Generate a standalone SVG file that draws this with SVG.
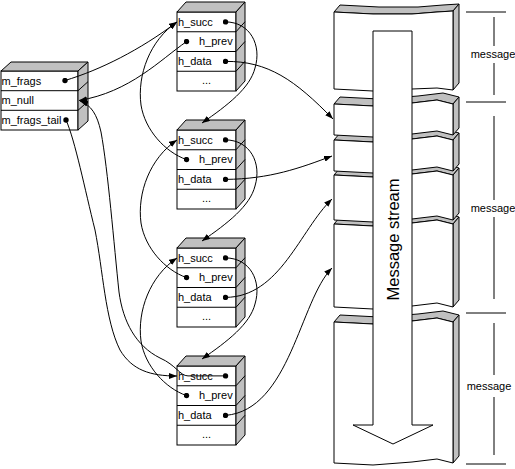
<svg xmlns="http://www.w3.org/2000/svg" width="515" height="469" viewBox="0 0 515 469">
<style>
.face{fill:#fff;stroke:#000;stroke-width:1}
.shade{fill:#c0c0c0;stroke:#000;stroke-width:1}
.ln{fill:none;stroke:#000;stroke-width:1}
text{font-family:"Liberation Sans",Arial,sans-serif;font-size:11px;fill:#000}
.big{font-size:16.5px}
.con{fill:none;stroke:#000;stroke-width:1}
.d{marker-start:url(#dot)}
.a{marker-end:url(#arr)}
</style>
<defs>
<marker id="dot" viewBox="-3 -3 6 6" refX="0" refY="0" markerWidth="6" markerHeight="6" markerUnits="userSpaceOnUse"><circle r="2.7" fill="#000"/></marker>
<marker id="arr" viewBox="0 0 8 6" refX="8" refY="3" markerWidth="8" markerHeight="6" orient="auto" markerUnits="userSpaceOnUse"><path d="M0,0 L8,3 L0,6 z" fill="#000"/></marker>
</defs>
<rect width="515" height="469" fill="#fff"/>

<g id="list-header" transform="translate(1,71)">
<rect class="face" x="0" y="0" width="77" height="59"/>
<polygon class="shade" points="0,0 10,-9 87,-9 77,0"/>
<polygon class="shade" points="77,0 87,-9 87,50 77,59"/>
<path class="ln" d="M0,19.7H77l10,-9 M0,39.3H77l10,-9"/>
<text x="0.5" y="13.5">m_frags</text>
<text x="0.5" y="33.2">m_null</text>
<text x="0.5" y="52.8">m_frags_tail</text>
</g>

<g id="node1" transform="translate(177,12)">
<rect class="face" x="0" y="0" width="59" height="79"/>
<polygon class="shade" points="0,0 9,-10 68,-10 59,0"/>
<polygon class="shade" points="59,0 68,-10 68,69 59,79"/>
<path class="ln" d="M0,19.75H59l9,-10 M0,39.5H59l9,-10 M0,59.25H59l9,-10"/>
<text x="1" y="13.5">h_succ</text>
<text x="22" y="33.2">h_prev</text>
<text x="1" y="53">h_data</text>
<text x="29.5" y="72" text-anchor="middle">...</text>
</g>
<g id="node2" transform="translate(177,130)">
<rect class="face" x="0" y="0" width="59" height="79"/>
<polygon class="shade" points="0,0 9,-10 68,-10 59,0"/>
<polygon class="shade" points="59,0 68,-10 68,69 59,79"/>
<path class="ln" d="M0,19.75H59l9,-10 M0,39.5H59l9,-10 M0,59.25H59l9,-10"/>
<text x="1" y="13.5">h_succ</text>
<text x="22" y="33.2">h_prev</text>
<text x="1" y="53">h_data</text>
<text x="29.5" y="72" text-anchor="middle">...</text>
</g>
<g id="node3" transform="translate(177,248)">
<rect class="face" x="0" y="0" width="59" height="79"/>
<polygon class="shade" points="0,0 9,-10 68,-10 59,0"/>
<polygon class="shade" points="59,0 68,-10 68,69 59,79"/>
<path class="ln" d="M0,19.75H59l9,-10 M0,39.5H59l9,-10 M0,59.25H59l9,-10"/>
<text x="1" y="13.5">h_succ</text>
<text x="22" y="33.2">h_prev</text>
<text x="1" y="53">h_data</text>
<text x="29.5" y="72" text-anchor="middle">...</text>
</g>
<g id="node4" transform="translate(177,366)">
<rect class="face" x="0" y="0" width="59" height="79"/>
<polygon class="shade" points="0,0 9,-10 68,-10 59,0"/>
<polygon class="shade" points="59,0 68,-10 68,69 59,79"/>
<path class="ln" d="M0,19.75H59l9,-10 M0,39.5H59l9,-10 M0,59.25H59l9,-10"/>
<text x="1" y="13.5">h_succ</text>
<text x="22" y="33.2">h_prev</text>
<text x="1" y="53">h_data</text>
<text x="29.5" y="72" text-anchor="middle">...</text>
</g>

<g id="message-stream">
<g id="block6">
<polygon class="shade" points="334,322 373,324 412,321 437,318 453,322 459,315 443,311 418,314 379,317 340,315"/>
<polygon class="shade" points="453,322 459,315 459,456 453,463"/>
<polygon class="face" points="334,322 373,324 412,321 437,318 453,322 453,463 437,459 412,462 373,465 334,463"/>
</g>
<g id="block5">
<polygon class="shade" points="334,224 373,226 412,223 437,220 453,224 459,217 443,213 418,216 379,219 340,217"/>
<polygon class="shade" points="453,224 459,217 459,300 453,307"/>
<polygon class="face" points="334,224 373,226 412,223 437,220 453,224 453,307 437,303 412,306 373,309 334,307"/>
</g>
<g id="block4">
<polygon class="shade" points="334,175 373,177 412,174 437,171 453,175 459,168 443,164 418,167 379,170 340,168"/>
<polygon class="shade" points="453,175 459,168 459,213 453,220"/>
<polygon class="face" points="334,175 373,177 412,174 437,171 453,175 453,220 437,216 412,219 373,222 334,220"/>
</g>
<g id="block3">
<polygon class="shade" points="334,140 373,142 412,139 437,136 453,140 459,133 443,129 418,132 379,135 340,133"/>
<polygon class="shade" points="453,140 459,133 459,164 453,171"/>
<polygon class="face" points="334,140 373,142 412,139 437,136 453,140 453,171 437,167 412,170 373,173 334,171"/>
</g>
<g id="block2">
<polygon class="shade" points="334,104 373,106 412,103 437,100 453,104 459,97 443,93 418,96 379,99 340,97"/>
<polygon class="shade" points="453,104 459,97 459,128 453,135"/>
<polygon class="face" points="334,104 373,106 412,103 437,100 453,104 453,135 437,131 412,134 373,137 334,135"/>
</g>
<g id="block1">
<polygon class="shade" points="334,12 373,14 412,14 437,12 453,11 459,4 443,5 418,7 379,7 340,5"/>
<polygon class="shade" points="453,11 459,4 459,83 453,90"/>
<polygon class="face" points="334,12 373,14 412,14 437,12 453,11 453,90 437,88 412,89 373,91 334,89"/>
</g>
<polygon id="stream-arrow" class="face" points="373,31 412,31 412,425 433,425 393,444 353,425 373,425"/>
<text class="big" transform="translate(398.5,239.5) rotate(-90)" text-anchor="middle">Message stream</text>
</g>

<g id="message-labels">
<path class="ln" d="M466,12H506 M466,102H506 M466,313H506 M466,464H506 M494,17V46 M494,63V95 M494,116V200 M494,217V299 M494,323V375 M494,397V455"/>
<text x="493" y="58" text-anchor="middle">message</text>
<text x="493" y="212" text-anchor="middle">message</text>
<text x="489" y="389.5" text-anchor="middle">message</text>
</g>

<g id="connectors">
<path class="con d a" d="M65,80.5 C100,70 140,50 177,22"/>
<path class="con d a" d="M186.5,41.6 C160,60 130,92 79,100.5"/>
<path class="con d a" d="M225.5,375.9 L188,375.9 C180,375.9 176,365 160,358 C136,346 123,322 119,292 C114,245 108,170 101,132 C97,114 91,105 80,101"/>
<path class="con d a" d="M66,120 C75,140 85,190 95,230 C103,270 105,320 120,350 C132,370 150,376 177,376"/>
<path class="con d a" d="M186.5,159.6 C165,152 145,130 141,105 C137,75 150,40 177,22"/>
<path class="con d a" d="M186.5,277.6 C165,270 145,248 141,223 C137,193 150,158 177,140"/>
<path class="con d a" d="M186.5,395.6 C165,388 145,366 141,341 C137,311 150,276 177,258"/>
<path class="con d a" d="M225.5,21.9 C250,22 262,45 255,68 C250,88 228,105 202,123"/>
<path class="con d a" d="M225.5,139.9 C250,140 262,163 255,186 C250,206 228,223 202,241"/>
<path class="con d a" d="M225.5,257.9 C250,258 262,281 255,304 C250,324 228,341 202,359"/>
<path class="con d a" d="M225.5,61.4 C268,61 295,80 333,119"/>
<path class="con d a" d="M225.5,179.4 C270,179 300,168 332,156"/>
<path class="con d a" d="M225.5,297.4 C280,297 300,230 332,199"/>
<path class="con d a" d="M225.5,415.4 C290,410 300,300 332,268"/>
</g>
</svg>
